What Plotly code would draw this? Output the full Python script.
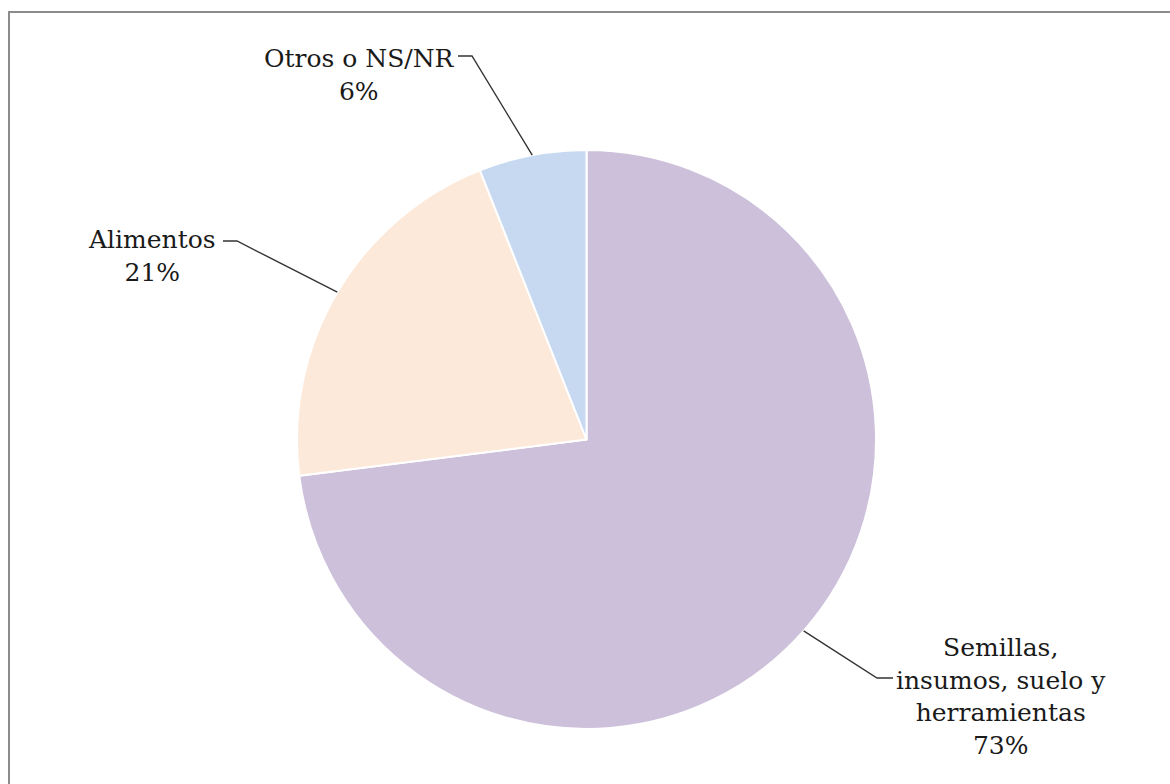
import math
import plotly.graph_objects as go

# Distribution of responses
categories = ["Semillas,<br>insumos, suelo y<br>herramientas", "Alimentos", "Otros o NS/NR"]
percentages = [73, 21, 6]
colors = ["#CCC0DA", "#FDE9D9", "#C6D9F1"]

W, H = 1170, 784
FONT = "DejaVu Serif"

# Pie geometry in pixels (centre and radius)
cx, cy, r = 586.5, 439.5, 289.5

# Label block centres and elbow offsets (pixels) for each slice
label_pos = [(1001, 696), (152, 256), (359, 75)]
elbows = [((877, 678), (893, 678)), ((237, 241), (223, 241)), ((472, 56), (458, 56))]


def px(x):
    return x / W


def py(y):
    return 1 - y / H


fig = go.Figure()
fig.add_trace(go.Pie(
    labels=categories,
    values=percentages,
    sort=False,
    direction="clockwise",
    rotation=0,
    marker=dict(colors=colors, line=dict(color="white", width=2)),
    textinfo="none",
    hoverinfo="label+percent",
    showlegend=False,
    domain=dict(x=[px(cx - r), px(cx + r)], y=[py(cy + r), py(cy - r)]),
))

shapes = []
annotations = []
total = sum(percentages)
cum = 0.0
for name, val, (lx, ly), (e1, e2) in zip(categories, percentages, label_pos, elbows):
    mid = (cum + val / 2) / total
    cum += val
    ang = 2 * math.pi * mid  # clockwise from 12 o'clock
    ax = cx + r * math.sin(ang)
    ay = cy - r * math.cos(ang)
    path = f"M {px(ax)},{py(ay)} L {px(e1[0])},{py(e1[1])} L {px(e2[0])},{py(e2[1])}"
    shapes.append(dict(type="path", xref="paper", yref="paper", path=path,
                       line=dict(color="#333333", width=1.4)))
    annotations.append(dict(
        x=px(lx), y=py(ly), xref="paper", yref="paper",
        text=f"{name}<br>{val}%", showarrow=False,
        xanchor="center", yanchor="middle", align="center",
        font=dict(family=FONT, size=25, color="#1a1a1a"),
    ))

# Chart area frame
shapes.append(dict(type="rect", xref="paper", yref="paper",
                   x0=px(9), y0=py(H + 20), x1=px(W + 20), y1=py(12),
                   line=dict(color="#8c8c8c", width=2), fillcolor="rgba(0,0,0,0)"))

fig.update_layout(
    width=W, height=H,
    margin=dict(l=0, r=0, t=0, b=0),
    paper_bgcolor="white",
    plot_bgcolor="white",
    shapes=shapes,
    annotations=annotations,
)

fig.write_html("out.html")
